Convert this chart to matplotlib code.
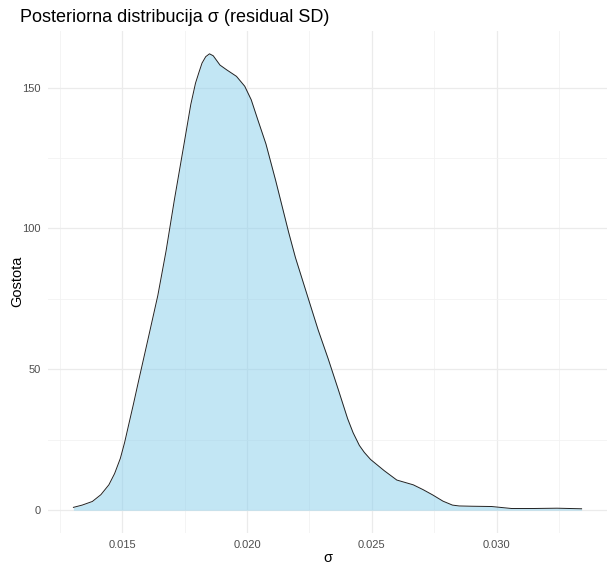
import matplotlib
matplotlib.use("Agg")
import matplotlib.pyplot as plt
import numpy as np

plt.rcParams["font.family"] = ["Liberation Sans", "DejaVu Sans"]

sigma = [0.01305, 0.01340, 0.01381, 0.01415, 0.01447, 0.01470, 0.01493, 0.01510,
         0.01526, 0.01545, 0.01565, 0.01604, 0.01643,
         0.01676, 0.01709, 0.01748, 0.01775, 0.01794, 0.01808, 0.01820, 0.01835, 0.01850,
         0.01865, 0.01892, 0.01919, 0.01958, 0.01991, 0.02017, 0.02043, 0.02076,
         0.02115, 0.02167, 0.02194, 0.02246, 0.02285, 0.02325, 0.02365, 0.02403,
         0.02425, 0.02450, 0.02470, 0.02495, 0.02550, 0.02600, 0.02666, 0.02705,
         0.02744, 0.02785, 0.02823, 0.02850, 0.02900, 0.02980, 0.03059, 0.03150,
         0.03242, 0.03340]
density = [1.0, 1.8, 3.1, 5.5, 9.0, 13.0, 18.4, 24.0,
           30.2, 37.5, 45.5, 60.8, 76.2,
           92.0, 110.0, 130.0, 144.0, 151.6, 155.5, 158.7, 161.0, 162.0,
           161.3, 158.0, 156.3, 154.0, 150.5, 145.7, 138.7, 130.0,
           117.0, 98.6, 89.7, 75.0, 64.0, 53.8, 43.0, 32.5,
           27.5, 23.0, 20.5, 18.0, 14.0, 10.7, 9.0, 7.3,
           5.4, 3.2, 1.8, 1.5, 1.4, 1.3, 0.6, 0.6,
           0.7, 0.5]

x_major = [0.015, 0.020, 0.025, 0.030]
x_labels = ["0.015", "0.020", "0.025", "0.030"]
x_minor = [0.0125, 0.0175, 0.0225, 0.0275, 0.0325]
y_major = [0, 50, 100, 150]
y_minor = [25, 75, 125]

title = "Posteriorna distribucija σ (residual SD)"
xlabel = "σ"
ylabel = "Gostota"

fig = plt.figure(figsize=(6.12, 5.64), dpi=100)
ax = fig.add_axes([48/612, 31/564, (607-48)/612, (533-31)/564])

xs = np.array(sigma)
ys = np.array(density)
ax.fill_between(xs, 0, ys, color="#87CEEB", alpha=0.5, linewidth=0, zorder=2)
ax.plot(xs, ys, color="#222222", linewidth=0.7, zorder=3)

rng = xs.max() - xs.min()
ax.set_xlim(xs.min() - 0.05 * rng, xs.max() + 0.05 * rng)
ax.set_ylim(-0.05 * ys.max(), ys.max() * 1.05)

ax.set_xticks(x_major)
ax.set_xticklabels(x_labels)
ax.set_xticks(x_minor, minor=True)
ax.set_yticks(y_major)
ax.set_yticks(y_minor, minor=True)

ax.grid(True, which="major", color="#EBEBEB", linewidth=0.9, zorder=0)
ax.grid(True, which="minor", color="#F2F2F2", linewidth=0.6, zorder=0)
ax.set_axisbelow(True)
for s in ax.spines.values():
    s.set_visible(False)
ax.tick_params(which="both", length=0, labelsize=8, labelcolor="#4D4D4D", pad=5)

fig.text(327.5/612, 1 - 558/564, xlabel, fontsize=10.5, ha="center", va="center")
fig.text(17/612, 1 - 281/564, ylabel, fontsize=10.5, ha="center", va="center", rotation=90)
fig.text(20/612, 1 - 18/564, title, fontsize=13, va="center", ha="left")

fig.savefig("out.png", dpi=100, facecolor="white")
